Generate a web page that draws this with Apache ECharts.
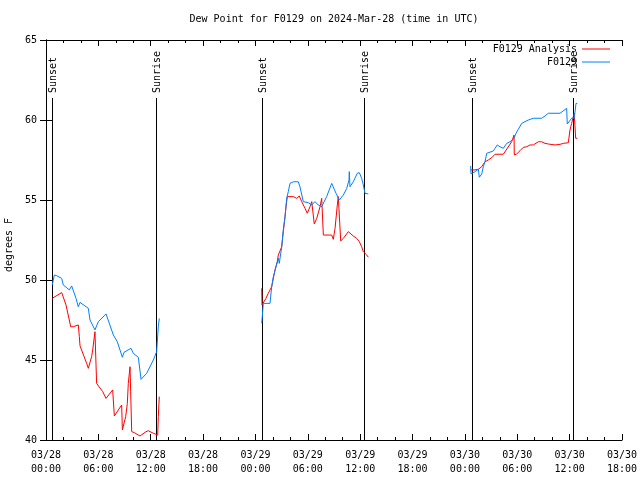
<!DOCTYPE html>
<html><head><meta charset="utf-8">
<script src="https://cdn.jsdelivr.net/npm/echarts@6/dist/echarts.min.js"></script>
<style>html,body{margin:0;padding:0;background:#fff}#c{width:640px;height:480px}</style>
</head><body><div id="c"></div>
<script>
// hours since 2024-03-28 00:00 UTC
const analysisHours = [0.72,1.03,1.8,1.91,2.29,2.67,2.83,3.13,3.7,3.82,3.9,4.66,4.85,5.04,5.23,5.35,5.61,5.66,5.8,6.0,6.5,6.88,7.64,7.75,7.83,8.67,8.75,8.86,9.13,9.32,9.43,9.55,9.63,9.7,9.82,10.12,10.77,11.46,11.72,12.3,12.8,12.87,12.98,
  18.0,
  24.72,24.75,24.9,25.21,25.47,25.86,26.24,26.5,26.62,26.81,27.01,27.19,27.39,27.5,27.65,28.34,28.73,29.02,29.3,29.68,29.94,30.25,30.45,30.74,31.02,31.4,31.59,31.78,32.74,32.92,33.12,33.38,33.49,33.77,34.07,34.64,35.21,35.6,35.9,36.17,36.36,36.55,36.75,36.93,
  42.0,
  48.66,49.16,49.54,49.73,49.93,50.3,50.68,51.07,51.45,52.4,53.36,53.63,53.66,53.94,54.31,54.69,55.08,55.46,55.84,56.03,56.41,56.8,57.18,57.56,58.33,58.9,59.28,59.85,60.04,60.23,60.42,60.53,60.61,60.69,60.88];
const analysisValues = [48.85,48.96,49.21,49.17,48.44,47.5,47.08,47.08,47.19,46.46,45.88,44.79,44.48,44.48,45.21,45.63,46.77,46.77,43.54,43.48,43.02,42.6,43.13,43.25,41.5,42.19,40.63,40.63,41.46,42.29,43.54,44.17,44.58,43.02,40.52,40.46,40.25,40.52,40.58,40.42,40.31,41.46,42.71,
  null,
  49.48,48.44,48.54,48.86,49.17,49.58,50.63,51.14,51.56,51.56,52.08,53.02,53.96,54.58,55.21,55.21,55.1,55.25,54.9,54.48,54.17,54.58,54.9,53.5,53.85,54.58,55.1,52.81,52.81,52.54,53.23,54.69,55.21,52.44,52.6,53.02,52.75,52.6,52.4,52.08,51.77,51.67,51.56,51.42,
  null,
  56.88,56.88,56.92,56.98,57.08,57.39,57.5,57.64,57.86,57.86,58.64,59.06,57.81,57.88,58.08,58.29,58.33,58.44,58.44,58.54,58.64,58.64,58.54,58.5,58.44,58.48,58.54,58.58,59.38,59.79,60.21,60.42,60.31,58.86,58.86];

const obsHours = [0.72,0.95,1.22,1.8,1.98,2.67,2.94,3.44,3.7,3.9,4.85,5.04,5.61,6.0,6.88,7.72,8.17,8.75,8.94,9.74,10.0,10.58,10.89,11.54,12.3,12.68,12.87,12.98,
  18.0,
  24.72,24.9,25.67,25.86,26.05,26.36,26.62,26.73,26.89,27.01,27.19,27.39,27.58,27.76,27.96,28.34,28.91,29.1,29.48,30.06,30.45,30.82,31.2,31.59,31.78,32.16,32.74,32.92,33.23,33.61,34.07,34.46,34.72,34.75,34.83,35.21,35.67,35.9,36.17,36.36,36.55,36.93,
  42.0,
  48.66,48.7,49.16,49.54,49.65,49.93,50.11,50.3,50.5,50.68,51.25,51.45,51.71,52.02,52.4,52.6,52.79,53.17,53.36,53.63,53.86,54.12,54.51,54.89,55.27,55.84,56.8,57.18,57.56,58.9,59.66,59.73,60.23,60.53,60.73,60.88];
const obsValues = [49.69,50.31,50.27,50.1,49.69,49.38,49.63,48.85,48.33,48.6,48.23,47.5,46.88,47.4,47.88,46.56,46.14,45.17,45.48,45.73,45.42,45.17,43.79,44.17,45.0,45.52,47.08,47.6,
  null,
  47.29,48.54,48.54,49.58,50.21,50.83,51.36,51.04,50.94,52.08,53.13,53.96,55.1,55.52,56.04,56.14,56.14,55.83,54.9,54.83,54.69,54.9,54.69,54.58,54.48,55.21,56.04,55.94,55.42,55.0,55.31,55.73,56.25,56.77,55.83,56.14,56.67,56.71,56.36,55.94,55.42,55.38,
  null,
  57.13,56.63,56.77,56.92,56.42,56.63,57.08,57.39,57.92,58.02,58.06,58.23,58.44,58.33,58.23,58.13,58.54,58.64,58.75,58.86,59.17,59.42,59.79,59.9,60.0,60.11,60.11,60.25,60.42,60.42,60.73,59.75,60.11,60.11,61.04,61.04];

const sunHours = [0.72, 12.57, 24.72, 36.47, 48.78, 60.42];
const sunLabels = ['Sunset','Sunrise','Sunset','Sunrise','Sunset','Sunrise'];
const sunLineTop = 61.375;

const seriesNames = ['F0129 Analysis', 'F0129'];
const titleText = 'Dew Point for F0129 on 2024-Mar-28 (time in UTC)';
const xMin = 0, xMax = 66, xStep = 6;
const yMin = 40, yMax = 65, yStep = 5;

const FONT = "'DejaVu Sans Mono', 'Liberation Mono', monospace";
function pad(n){return (n<10?'0':'')+n;}
function xLabel(h){
  const d = 28 + Math.floor(h/24);
  const hh = Math.round(h % 24);
  return '03/' + pad(d) + '\n' + pad(hh) + ':00';
}
const pairs = (hs, vs) => hs.map((h,i)=>[h, vs[i] === null ? '-' : vs[i]]);

const chart = echarts.init(document.getElementById('c'), null, {renderer:'canvas'});
const axisCommon = {
  type:'value', min:xMin, max:xMax, interval:xStep,
  axisLine:{show:true, lineStyle:{color:'#000', width:1}},
  axisTick:{show:true, inside:true, length:6, lineStyle:{color:'#000'}},
  minorTick:{show:true, splitNumber:3, length:3, lineStyle:{color:'#000'}},
  splitLine:{show:false}, minorSplitLine:{show:false}
};
chart.setOption({
  animation:false,
  backgroundColor:'#fff',
  title:{text:titleText, left:334, top:14, padding:0, textAlign:'center',
    textStyle:{fontFamily:FONT, fontSize:10, fontWeight:'normal', color:'#000'}},
  legend:{
    data:seriesNames, orient:'vertical', align:'right', right:30, top:44, padding:0,
    icon:'rect', itemWidth:28, itemHeight:1, itemGap:3,
    textStyle:{fontFamily:FONT, fontSize:10, color:'#000'}
  },
  grid:{left:46, right:18, top:40, bottom:40, containLabel:false, outerBoundsMode:'none'},
  xAxis:[
    Object.assign({}, axisCommon, {position:'bottom',
      axisLabel:{show:true, margin:8, fontFamily:FONT, fontSize:10, color:'#000', lineHeight:14,
        formatter:xLabel}}),
    Object.assign({}, axisCommon, {position:'top', axisLabel:{show:false}})
  ],
  yAxis:[
    {type:'value', min:yMin, max:yMax, interval:yStep, position:'left',
     name:'degrees F', nameLocation:'middle', nameGap:30, nameRotate:90,
     nameTextStyle:{fontFamily:FONT, fontSize:10, color:'#000', padding:[0,10,0,0]},
     axisLine:{show:true, lineStyle:{color:'#000'}},
     axisTick:{show:true, inside:true, length:6, lineStyle:{color:'#000'}},
     axisLabel:{margin:9, fontFamily:FONT, fontSize:10, color:'#000'},
     splitLine:{show:false}},
    {type:'value', min:yMin, max:yMax, interval:yStep, position:'right',
     axisLine:{show:true, lineStyle:{color:'#000'}},
     axisTick:{show:true, inside:true, length:6, lineStyle:{color:'#000'}},
     axisLabel:{show:false}, splitLine:{show:false}}
  ],
  series:[
    {type:'custom', name:'sun', xAxisIndex:0, yAxisIndex:0, silent:true, clip:false, z:1,
     data: sunHours.map(h=>[h]),
     renderItem:function(params, api){
       const pb = api.coord([api.value(0), yMin]);
       const pt = api.coord([api.value(0), sunLineTop]);
       const x = Math.round(pb[0]) + 0.5;
       return {type:'group', children:[
         {type:'line', shape:{x1:x, y1:pb[1], x2:x, y2:pt[1]}, style:{stroke:'#000', lineWidth:1}},
         {type:'text', x:x+1, y:pt[1]-5, rotation:Math.PI/2,
          style:{text:sunLabels[params.dataIndex], font:'10px ' + FONT, fill:'#000', align:'left', verticalAlign:'middle'}}
       ]};
     }},
    {type:'line', name:seriesNames[0], xAxisIndex:0, yAxisIndex:0, data:pairs(analysisHours, analysisValues),
     showSymbol:false, symbol:'none', connectNulls:false, color:'#ff0000',
     lineStyle:{color:'#ff0000', width:1}, z:3},
    {type:'line', name:seriesNames[1], xAxisIndex:0, yAxisIndex:0, data:pairs(obsHours, obsValues),
     showSymbol:false, symbol:'none', connectNulls:false, color:'#0080ff',
     lineStyle:{color:'#0080ff', width:1}, z:4}
  ]
});
</script></body></html>
